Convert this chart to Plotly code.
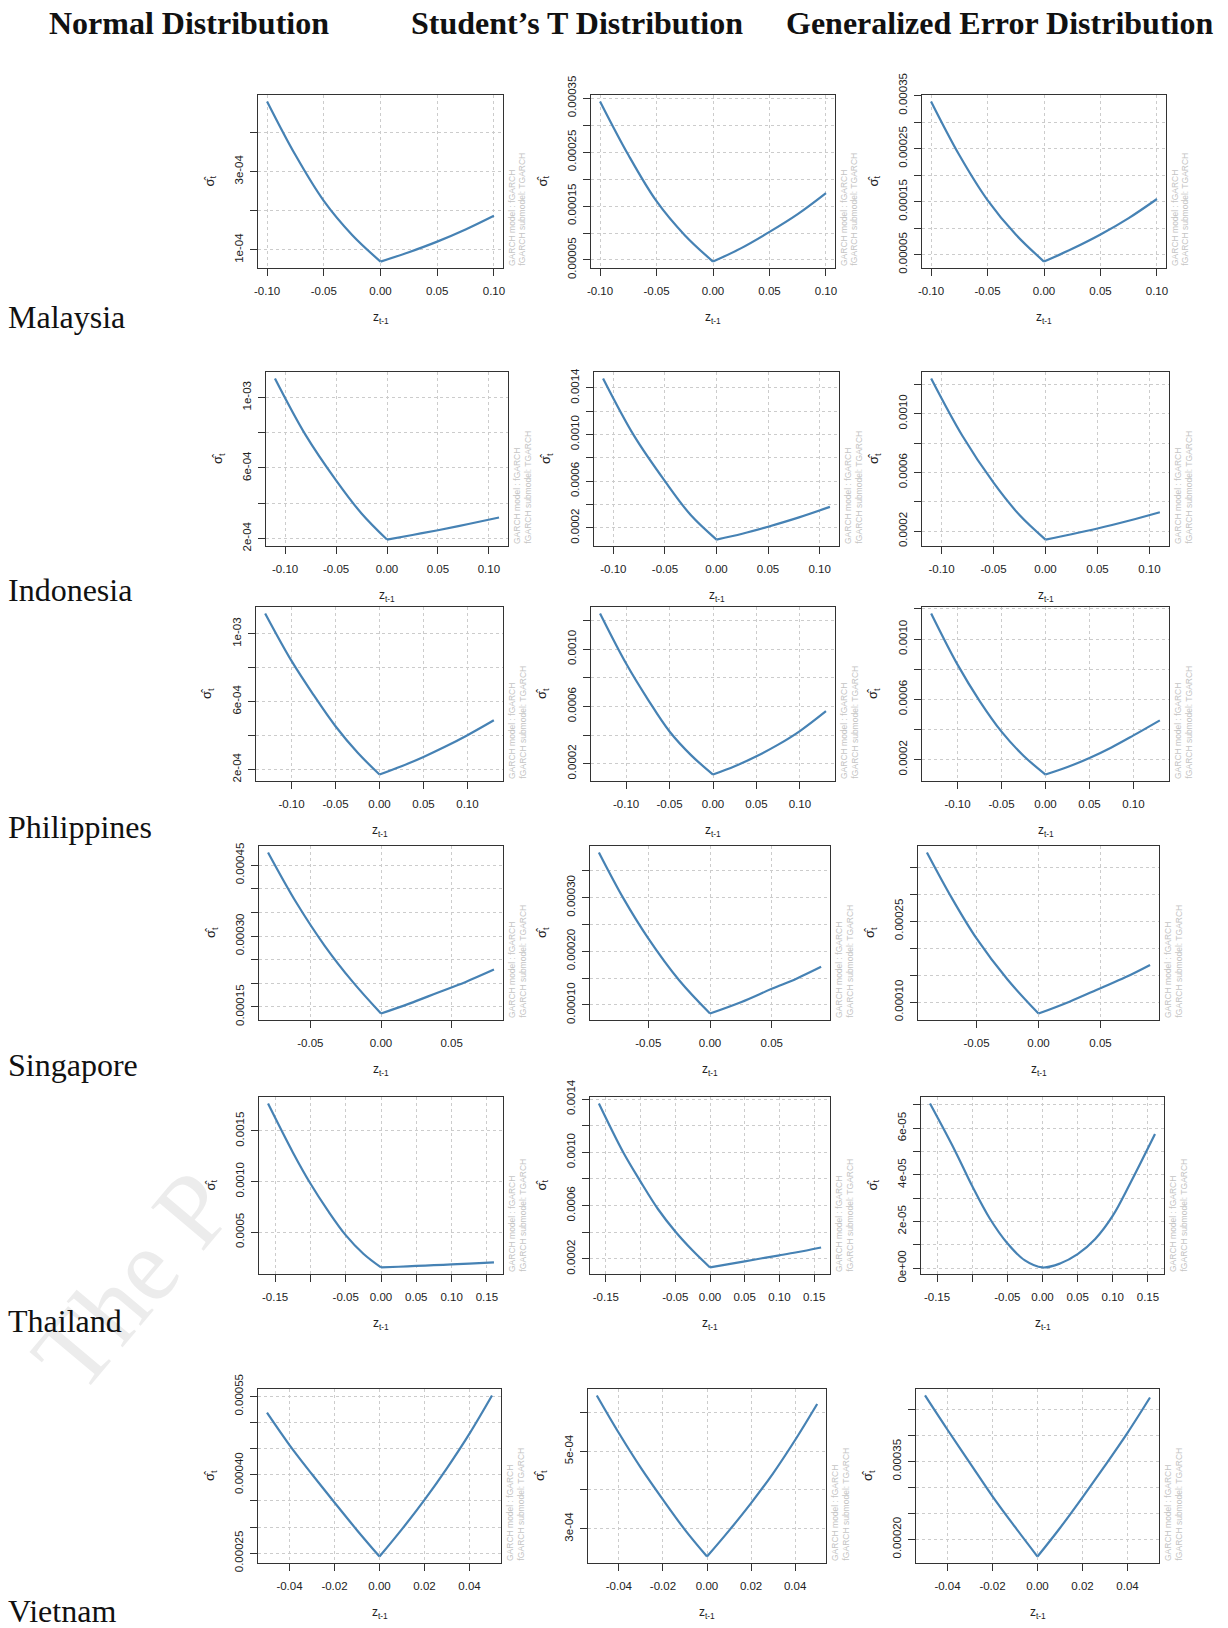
import plotly.graph_objects as go

W, H = 1228, 1628

# ------------------------------------------------------------------
# DATA  (news-impact values sigma_t^2)
# ------------------------------------------------------------------
distributions = ["Normal Distribution", "Student\u2019s T Distribution", "Generalized Error Distribution"]
countries = ["Malaysia", "Indonesia", "Philippines", "Singapore", "Thailand", "Vietnam"]

malaysia_z = [-0.10, -0.075, -0.05, -0.025, 0.0, 0.025, 0.05, 0.075, 0.10]
malaysia_normal = [4.79e-4, 3.42e-4, 2.25e-4, 1.38e-4, 0.70e-4, 0.94e-4, 1.21e-4, 1.52e-4, 1.87e-4]
malaysia_student = [3.44e-4, 2.45e-4, 1.59e-4, 0.96e-4, 0.47e-4, 0.72e-4, 1.02e-4, 1.35e-4, 1.74e-4]
malaysia_ged = [3.39e-4, 2.38e-4, 1.53e-4, 0.88e-4, 0.37e-4, 0.61e-4, 0.88e-4, 1.19e-4, 1.55e-4]

indonesia_z = [-0.11, -0.08, -0.05, -0.025, 0.0, 0.025, 0.05, 0.08, 0.11]
indonesia_normal = [11.08e-4, 7.88e-4, 5.3e-4, 3.42e-4, 1.94e-4, 2.2e-4, 2.47e-4, 2.82e-4, 3.19e-4]
indonesia_student = [14.8e-4, 9.9e-4, 6.0e-4, 3.1e-4, 1.0e-4, 1.5e-4, 2.1e-4, 2.9e-4, 3.8e-4]
indonesia_ged = [12.4e-4, 8.5e-4, 5.3e-4, 3.1e-4, 1.43e-4, 1.79e-4, 2.18e-4, 2.71e-4, 3.29e-4]

philippines_z = [-0.13, -0.10, -0.075, -0.05, -0.025, 0.0, 0.025, 0.05, 0.075, 0.10, 0.13]
philippines_normal = [11.2e-4, 8.4e-4, 6.4e-4, 4.55e-4, 3.0e-4, 1.7e-4, 2.19e-4, 2.74e-4, 3.35e-4, 4.02e-4, 4.9e-4]
philippines_student = [12.5e-4, 9.0e-4, 6.5e-4, 4.25e-4, 2.58e-4, 1.24e-4, 1.82e-4, 2.52e-4, 3.33e-4, 4.28e-4, 5.67e-4]
philippines_ged = [11.7e-4, 8.3e-4, 5.9e-4, 3.85e-4, 2.25e-4, 1.0e-4, 1.5e-4, 2.1e-4, 2.8e-4, 3.6e-4, 4.6e-4]

singapore_z_normal = [-0.08, -0.06, -0.04, -0.02, 0.0, 0.02, 0.04, 0.06, 0.08]
singapore_normal = [4.77e-4, 3.71e-4, 2.80e-4, 2.03e-4, 1.36e-4, 1.57e-4, 1.80e-4, 2.03e-4, 2.29e-4]
singapore_z = [-0.09, -0.07, -0.05, -0.025, 0.0, 0.025, 0.05, 0.07, 0.09]
singapore_student = [3.84e-4, 2.98e-4, 2.24e-4, 1.46e-4, 0.84e-4, 1.05e-4, 1.30e-4, 1.49e-4, 1.71e-4]
singapore_ged = [3.77e-4, 2.93e-4, 2.18e-4, 1.42e-4, 0.79e-4, 1.01e-4, 1.26e-4, 1.46e-4, 1.69e-4]

thailand_z = [-0.16, -0.125, -0.10, -0.075, -0.05, -0.025, 0.0, 0.025, 0.05, 0.075, 0.10, 0.125, 0.16]
thailand_normal = [1.77e-3, 1.29e-3, 0.98e-3, 0.71e-3, 0.47e-3, 0.286e-3, 0.151e-3, 0.158e-3, 0.166e-3,
                   0.173e-3, 0.181e-3, 0.189e-3, 0.202e-3]
thailand_student = [1.366e-3, 1.0e-3, 0.78e-3, 0.574e-3, 0.405e-3, 0.262e-3, 0.135e-3, 0.158e-3, 0.181e-3,
                    0.204e-3, 0.226e-3, 0.249e-3, 0.285e-3]
thailand_ged = [7.06e-5, 5.07e-5, 3.52e-5, 2.13e-5, 1.07e-5, 0.33e-5, 0.03e-5, 0.2e-5, 0.6e-5,
                1.25e-5, 2.25e-5, 3.65e-5, 5.75e-5]

vietnam_z = [-0.05, -0.04, -0.03, -0.02, -0.01, 0.0, 0.01, 0.02, 0.03, 0.04, 0.05]
vietnam_normal = [5.19e-4, 4.57e-4, 4.01e-4, 3.47e-4, 2.94e-4, 2.435e-4, 2.96e-4, 3.52e-4, 4.13e-4, 4.79e-4, 5.52e-4]
vietnam_student = [6.44e-4, 5.47e-4, 4.57e-4, 3.75e-4, 2.97e-4, 2.28e-4, 2.95e-4, 3.66e-4, 4.43e-4, 5.29e-4, 6.22e-4]
vietnam_ged = [4.77e-4, 4.11e-4, 3.47e-4, 2.83e-4, 2.24e-4, 1.67e-4, 2.22e-4, 2.81e-4, 3.42e-4, 4.05e-4, 4.73e-4]

# tick values / labels
x_ticks_10 = [-0.10, -0.05, 0.0, 0.05, 0.10]
x_labels_10 = ["-0.10", "-0.05", "0.00", "0.05", "0.10"]
x_ticks_05 = [-0.05, 0.0, 0.05]
x_labels_05 = ["-0.05", "0.00", "0.05"]
x_ticks_15 = [-0.15, -0.10, -0.05, 0.0, 0.05, 0.10, 0.15]
x_labels_15 = ["-0.15", "", "-0.05", "0.00", "0.05", "0.10", "0.15"]
x_ticks_04 = [-0.04, -0.02, 0.0, 0.02, 0.04]
x_labels_04 = ["-0.04", "-0.02", "0.00", "0.02", "0.04"]

y_ticks_my_n = [1e-4, 2e-4, 3e-4, 4e-4]
y_labels_my_n = ["1e-04", "", "3e-04", ""]
y_ticks_my_t = [0.5e-4, 1.0e-4, 1.5e-4, 2.0e-4, 2.5e-4, 3.0e-4, 3.5e-4]
y_labels_my_t = ["0.00005", "", "0.00015", "", "0.00025", "", "0.00035"]
y_ticks_id_n = [2e-4, 4e-4, 6e-4, 8e-4, 10e-4]
y_labels_id_n = ["2e-04", "", "6e-04", "", "1e-03"]
y_ticks_id_t = [2e-4, 4e-4, 6e-4, 8e-4, 10e-4, 12e-4, 14e-4]
y_labels_id_t = ["0.0002", "", "0.0006", "", "0.0010", "", "0.0014"]
y_ticks_ph_n = [2e-4, 4e-4, 6e-4, 8e-4, 10e-4]
y_labels_ph_n = ["2e-04", "", "6e-04", "", "1e-03"]
y_ticks_ph_t = [2e-4, 4e-4, 6e-4, 8e-4, 10e-4, 12e-4]
y_labels_ph_t = ["0.0002", "", "0.0006", "", "0.0010", ""]
y_ticks_sg_n = [1.5e-4, 2.0e-4, 2.5e-4, 3.0e-4, 3.5e-4, 4.0e-4, 4.5e-4]
y_labels_sg_n = ["0.00015", "", "", "0.00030", "", "", "0.00045"]
y_ticks_sg_t = [1.0e-4, 1.5e-4, 2.0e-4, 2.5e-4, 3.0e-4, 3.5e-4]
y_labels_sg_t = ["0.00010", "", "0.00020", "", "0.00030", ""]
y_labels_sg_g = ["0.00010", "", "", "0.00025", "", ""]
y_ticks_th_n = [5e-4, 10e-4, 15e-4]
y_labels_th_n = ["0.0005", "0.0010", "0.0015"]
y_ticks_th_t = [2e-4, 4e-4, 6e-4, 8e-4, 10e-4, 12e-4, 14e-4]
y_labels_th_t = ["0.0002", "", "0.0006", "", "0.0010", "", "0.0014"]
y_ticks_th_g = [0, 1e-5, 2e-5, 3e-5, 4e-5, 5e-5, 6e-5, 7e-5]
y_labels_th_g = ["0e+00", "", "2e-05", "", "4e-05", "", "6e-05", ""]
y_ticks_vn_n = [2.5e-4, 3.0e-4, 3.5e-4, 4.0e-4, 4.5e-4, 5.0e-4, 5.5e-4]
y_labels_vn_n = ["0.00025", "", "", "0.00040", "", "", "0.00055"]
y_ticks_vn_t = [3e-4, 4e-4, 5e-4, 6e-4]
y_labels_vn_t = ["3e-04", "", "5e-04", ""]
y_ticks_vn_g = [2.0e-4, 2.5e-4, 3.0e-4, 3.5e-4, 4.0e-4, 4.5e-4]
y_labels_vn_g = ["0.00020", "", "", "0.00035", "", ""]

# ------------------------------------------------------------------
# PANELS (row-major)
# ------------------------------------------------------------------
panels = [
    (malaysia_z, malaysia_normal, x_ticks_10, x_labels_10, y_ticks_my_n, y_labels_my_n),
    (malaysia_z, malaysia_student, x_ticks_10, x_labels_10, y_ticks_my_t, y_labels_my_t),
    (malaysia_z, malaysia_ged, x_ticks_10, x_labels_10, y_ticks_my_t, y_labels_my_t),
    (indonesia_z, indonesia_normal, x_ticks_10, x_labels_10, y_ticks_id_n, y_labels_id_n),
    (indonesia_z, indonesia_student, x_ticks_10, x_labels_10, y_ticks_id_t, y_labels_id_t),
    (indonesia_z, indonesia_ged, x_ticks_10, x_labels_10, y_ticks_id_t, y_labels_id_t),
    (philippines_z, philippines_normal, x_ticks_10, x_labels_10, y_ticks_ph_n, y_labels_ph_n),
    (philippines_z, philippines_student, x_ticks_10, x_labels_10, y_ticks_ph_t, y_labels_ph_t),
    (philippines_z, philippines_ged, x_ticks_10, x_labels_10, y_ticks_ph_t, y_labels_ph_t),
    (singapore_z_normal, singapore_normal, x_ticks_05, x_labels_05, y_ticks_sg_n, y_labels_sg_n),
    (singapore_z, singapore_student, x_ticks_05, x_labels_05, y_ticks_sg_t, y_labels_sg_t),
    (singapore_z, singapore_ged, x_ticks_05, x_labels_05, y_ticks_sg_t, y_labels_sg_g),
    (thailand_z, thailand_normal, x_ticks_15, x_labels_15, y_ticks_th_n, y_labels_th_n),
    (thailand_z, thailand_student, x_ticks_15, x_labels_15, y_ticks_th_t, y_labels_th_t),
    (thailand_z, thailand_ged, x_ticks_15, x_labels_15, y_ticks_th_g, y_labels_th_g),
    (vietnam_z, vietnam_normal, x_ticks_04, x_labels_04, y_ticks_vn_n, y_labels_vn_n),
    (vietnam_z, vietnam_student, x_ticks_04, x_labels_04, y_ticks_vn_t, y_labels_vn_t),
    (vietnam_z, vietnam_ged, x_ticks_04, x_labels_04, y_ticks_vn_g, y_labels_vn_g),
]
smooth_panels = {14}  # the GED/Thailand curve is a smooth parabola

# ------------------------------------------------------------------
# LAYOUT (pixel boxes of each plot region)
# ------------------------------------------------------------------
rows_y = [(95, 268), (372, 546), (607, 781), (846, 1020), (1097, 1274), (1389, 1563)]
cols_x = [
    [(258, 503), (591, 835), (922, 1166)],
    [(266, 508), (594, 839), (922, 1169)],
    [(256, 503), (591, 835), (922, 1169)],
    [(259, 503), (590, 830), (918, 1159)],
    [(259, 503), (590, 830), (921, 1164)],
    [(258, 501), (588, 826), (916, 1159)],
]
country_label_y = [317, 590, 827, 1065, 1321, 1611]
header_x = [189, 577, 999]
header_y = 23


def px(x):
    return x / W


def py(y):
    return 1 - y / H


LINE_COLOR = "#4682B4"
SANS = "Liberation Sans, Arial, sans-serif"
SERIF = "Liberation Serif, Times New Roman, serif"

fig = go.Figure()
annotations = []
layout_axes = {}

# faint diagonal watermark in the lower-left corner (drawn first, underneath)
annotations.append(dict(
    xref="paper", yref="paper", x=px(132), y=py(1280),
    text="The P", showarrow=False, textangle=-50,
    xanchor="center", yanchor="middle",
    font=dict(family=SERIF, size=104, color="#ececec"),
))

for i, (z, s, xt, xl, yt, yl) in enumerate(panels):
    n = i + 1
    r, c = divmod(i, 3)
    x0, x1 = cols_x[r][c]
    y0, y1 = rows_y[r]
    sfx = "" if n == 1 else str(n)

    if i in smooth_panels:
        pieces = [(z, s)]
    else:
        k = z.index(0.0)
        pieces = [(z[:k + 1], s[:k + 1]), (z[k:], s[k:])]
    for pz, ps in pieces:
        fig.add_trace(go.Scatter(
            x=pz, y=ps, mode="lines",
            line=dict(color=LINE_COLOR, width=2.2, shape="spline", smoothing=1.0),
            xaxis="x" + sfx, yaxis="y" + sfx,
            showlegend=False, hoverinfo="skip",
        ))

    zmin, zmax = min(z), max(z)
    zp = 0.04 * (zmax - zmin)
    smin, smax = min(s), max(s)
    sp = 0.04 * (smax - smin)

    common = dict(
        showline=True, mirror=True, linecolor="#333333", linewidth=1.4,
        ticks="outside", ticklen=7, tickwidth=1, tickcolor="#333333",
        showgrid=True, gridcolor="#cccccc", griddash="dot", gridwidth=1,
        zeroline=False, fixedrange=True, automargin=False,
        tickfont=dict(family=SANS, size=11.5, color="#222222"),
    )
    layout_axes["xaxis" + sfx] = dict(
        common, domain=[px(x0), px(x1)], anchor="y" + sfx,
        range=[zmin - zp, zmax + zp], tickmode="array",
        tickvals=xt, ticktext=xl, tickangle=0, ticklabelstandoff=5,
    )
    layout_axes["yaxis" + sfx] = dict(
        common, domain=[py(y1), py(y0)], anchor="x" + sfx,
        range=[smin - sp, smax + sp], tickmode="array",
        tickvals=yt, ticktext=yl, tickangle=-90, ticklabelstandoff=2,
    )

    # axis titles
    annotations.append(dict(
        xref="paper", yref="paper", x=px((x0 + x1) / 2), y=py(y1 + 50),
        text="z<sub>t-1</sub>", showarrow=False, xanchor="center", yanchor="middle",
        font=dict(family=SANS, size=12, color="#222222"),
    ))
    annotations.append(dict(
        xref="paper", yref="paper", x=px(x0 - 48), y=py((y0 + y1) / 2),
        text="\u03c3\u0302<sub>t</sub>", showarrow=False, textangle=-90,
        xanchor="center", yanchor="middle",
        font=dict(family=SANS, size=13, color="#222222"),
    ))
    # grey model notes on the right side
    for off, txt in [(9, "GARCH model : fGARCH"), (19, "fGARCH submodel: TGARCH")]:
        annotations.append(dict(
            xref="paper", yref="paper", x=px(x1 + off), y=py(y1),
            text=txt, showarrow=False, textangle=-90,
            xanchor="center", yanchor="bottom",
            font=dict(family=SANS, size=8.5, color="#c4c4c4"),
        ))

# column headers
for name, hx in zip(distributions, header_x):
    annotations.append(dict(
        xref="paper", yref="paper", x=px(hx), y=py(header_y),
        text="<b>" + name + "</b>", showarrow=False, xanchor="center", yanchor="middle",
        font=dict(family=SERIF, size=32, color="#111111"),
    ))

# row (country) labels
for name, ly in zip(countries, country_label_y):
    annotations.append(dict(
        xref="paper", yref="paper", x=px(6), y=py(ly),
        text=name, showarrow=False, xanchor="left", yanchor="middle",
        font=dict(family=SERIF, size=32, color="#111111"),
    ))

fig.update_layout(
    width=W, height=H,
    margin=dict(l=0, r=0, t=0, b=0, autoexpand=False),
    paper_bgcolor="white", plot_bgcolor="white",
    annotations=annotations,
    **layout_axes,
)

fig.write_html("out.html")
